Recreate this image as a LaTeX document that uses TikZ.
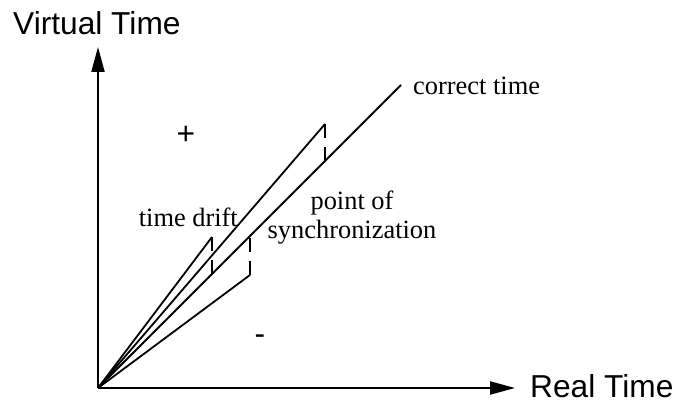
\documentclass[tikz,border=0pt]{standalone}
\usepackage{fontspec}
\setmainfont{Liberation Serif}
\newfontfamily\arialfont{Liberation Sans}
\usetikzlibrary{arrows.meta}
\begin{document}
\begin{tikzpicture}[x=1pt,y=-1pt,
  ln/.style={line width=1.8pt},
  axis/.style={line width=2pt,-{Triangle[length=25pt,width=13pt]}},
  dsh/.style={line width=1.8pt,dash pattern=on 14pt off 9pt},
  sanslab/.style={font=\arialfont\fontsize{31.7}{36}\selectfont,inner sep=0pt},
  serlab/.style={font=\fontsize{26.4}{30}\selectfont,inner sep=0pt}]
\useasboundingbox (0,0) rectangle (676,403);
\coordinate (O) at (98,388);
\coordinate (ytip) at (98,47);
\coordinate (xtip) at (515,388);
\coordinate (ct) at (401,85);
\coordinate (bigpeak) at (325,124);
\coordinate (bigfoot) at (325,161);
\coordinate (smallpeak) at (212,237);
\coordinate (smallfoot) at (212,274);
\coordinate (slowfoot) at (250,275);
\coordinate (slowtop) at (250,236);
\draw[axis] (O) -- (ytip);
\draw[axis] (O) -- (xtip);
\draw[ln] (O) -- (ct);
\draw[ln] (O) -- (bigpeak);
\draw[dsh] (bigpeak) -- (bigfoot);
\draw[ln] (O) -- (smallpeak);
\draw[dsh] (smallpeak) -- (smallfoot);
\draw[ln] (O) -- (slowfoot);
\draw[dsh] (slowfoot) -- (slowtop);
\node[sanslab,anchor=base west] (vt) at (13,35) {Virtual Time};
\node[sanslab,anchor=base west] (rt) at (530,397) {Real Time};
\node[sanslab] (plus) at (186,135) {+};
\node[sanslab] (minus) at (260,340) {-};
\node[serlab,anchor=base west] (ctl) at (413,95) {correct time};
\node[serlab,anchor=base east] (td) at (238,226) {time drift};
\node[serlab,anchor=base] (pof) at (352,210) {point of};
\node[serlab,anchor=base] (syn) at (352,238) {synchronization};
\end{tikzpicture}
\end{document}
